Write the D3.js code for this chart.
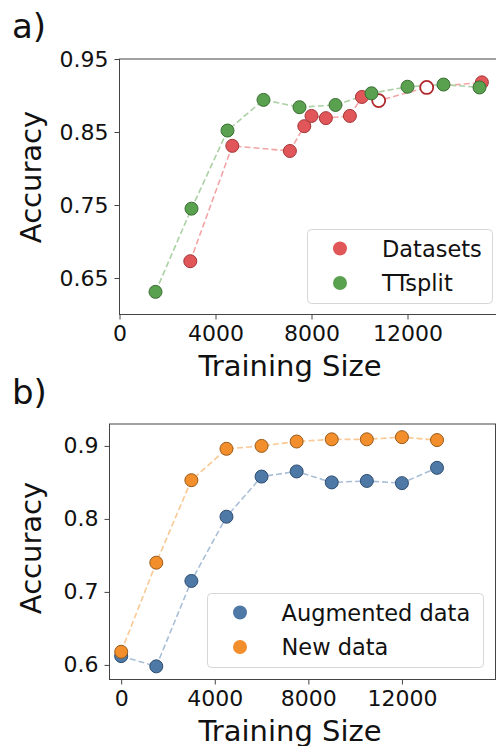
<!DOCTYPE html>
<html><head><meta charset="utf-8">
<script src="https://cdn.jsdelivr.net/npm/d3@7"></script>
<style>body{margin:0;background:#fff}svg{display:block;font-family:"DejaVu Sans",sans-serif}</style>
</head><body>
<svg id="c" width="496" height="746"></svg>
<script>
// Panel a
const ttX = [1500,3000,4500,6000,7500,9000,10500,12000,13500,15000];
const ttY = [0.631,0.745,0.852,0.894,0.884,0.887,0.903,0.912,0.915,0.911];
const dsX = [2950,4700,7100,7700,8000,8600,9600,10100,10800,12800,15100];
const dsY = [0.673,0.831,0.824,0.858,0.872,0.869,0.872,0.898,0.893,0.911,0.918];
const dsHollow = [false,false,false,false,false,false,false,false,true,true,false];
const aXTicks = [0,4000,8000,12000];
const aYTicks = [0.65,0.75,0.85,0.95];
// Panel b
const bX = [0,1500,3000,4500,6000,7500,9000,10500,12000,13500];
const augY = [0.612,0.598,0.715,0.803,0.858,0.865,0.850,0.852,0.849,0.870];
const newY = [0.618,0.740,0.853,0.896,0.900,0.906,0.909,0.909,0.912,0.908];
const bXTicks = [0,4000,8000,12000];
const bYTicks = [0.6,0.7,0.8,0.9];

const svg = d3.select("#c");
const C = {red:"#e15759", redEdge:"#a33538", redLine:"#f3a5a6", hollow:"#b0282c",
  green:"#59a14f", greenEdge:"#3a6e33", greenLine:"#abd1a5",
  blue:"#4e79a7", blueEdge:"#2f4d70", blueLine:"#a9bfd8",
  orange:"#f28e2b", orangeEdge:"#9a5a1a", orangeLine:"#f9c894"};

function panel(o){
  const g = svg.append("g");
  const x = d3.scaleLinear().domain(o.xd).range(o.xr);
  const y = d3.scaleLinear().domain(o.yd).range(o.yr);
  // spines
  const L = o.xr[0], R = o.xr[1], T = o.yr[1], B = o.yr[0];
  g.append("rect").attr("x",L).attr("y",T).attr("width",R-L).attr("height",B-T)
    .attr("fill","none").attr("stroke","#444").attr("stroke-width",1);
  const xa = d3.axisBottom(x).tickValues(o.xt).tickFormat(d3.format("d")).tickSize(5).tickPadding(6);
  const ya = d3.axisLeft(y).tickValues(o.yt).tickFormat(o.yf).tickSize(5).tickPadding(6);
  const gx = g.append("g").attr("transform",`translate(0,${B})`).call(xa);
  const gy = g.append("g").attr("transform",`translate(${L},0)`).call(ya);
  [gx,gy].forEach(a=>{a.select(".domain").remove();
    a.selectAll("line").attr("stroke","#444");
    a.selectAll("text").attr("font-size",22).attr("fill","#111").attr("font-family","DejaVu Sans");});
  // labels
  g.append("text").attr("x",(o.labX)).attr("y",B+61).attr("text-anchor","middle")
    .attr("font-size",29).attr("fill","#111").text("Training Size");
  g.append("text").attr("transform",`translate(41,${o.accY}) rotate(-90)`).attr("text-anchor","middle")
    .attr("font-size",29).attr("fill","#111").text("Accuracy");
  g.append("text").attr("x",12).attr("y",o.tagY).attr("font-size",34).attr("fill","#111").text(o.tag);
  const clip = g.append("g");
  o.series.forEach(s=>{
    const pts = s.x.map((v,i)=>[v,s.y[i]]);
    clip.append("path").attr("d",d3.line().x(d=>x(d[0])).y(d=>y(d[1]))(pts))
      .attr("fill","none").attr("stroke",s.line).attr("stroke-width",1.6).attr("stroke-dasharray","6,3");
  });
  o.series.forEach(s=>{
    clip.selectAll(null).data(s.x.map((v,i)=>({x:v,y:s.y[i],h:s.hollow?s.hollow[i]:false})))
      .join("circle").attr("cx",d=>x(d.x)).attr("cy",d=>y(d.y)).attr("r",6.5)
      .attr("fill",d=>d.h?"#fff":s.fill).attr("stroke",d=>d.h?s.hollowEdge:s.edge)
      .attr("stroke-width",d=>d.h?1.8:1);
  });
  // legend
  const lg = g.append("g");
  lg.append("rect").attr("x",o.leg[0]).attr("y",o.leg[1]).attr("width",o.leg[2]).attr("height",o.leg[3])
    .attr("rx",4).attr("fill","#fff").attr("fill-opacity",0.85).attr("stroke","#d6d6d6");
  o.series.forEach((s,i)=>{
    const cy = o.leg[1]+19+i*34.5;
    lg.append("circle").attr("cx",o.legMX).attr("cy",cy).attr("r",7).attr("fill",s.fill);
    lg.append("text").attr("x",o.legTX).attr("y",cy+8).attr("font-size",22.5).attr("fill","#111").text(s.name);
  });
}

panel({xd:[0,16000], xr:[119.5,503.5], yd:[0.6,0.95], yr:[314.5,59],
  xt:aXTicks, yt:aYTicks, yf:d3.format(".2f"), labX:290, accY:177, tag:"a)", tagY:38,
  leg:[307.5,229.5,185,74], legMX:340, legTX:382,
  series:[
    {name:"Datasets", x:dsX, y:dsY, hollow:dsHollow, fill:C.red, edge:C.redEdge, hollowEdge:C.hollow, line:C.redLine},
    {name:"TTsplit", x:ttX, y:ttY, fill:C.green, edge:C.greenEdge, line:C.greenLine}
  ]});

panel({xd:[-500,16000], xr:[109.5,495.5], yd:[0.58,0.93], yr:[679.5,424],
  xt:bXTicks, yt:bYTicks, yf:d3.format(".1f"), labX:290, accY:548, tag:"b)", tagY:404,
  leg:[207.5,593.5,276,74], legMX:240, legTX:281.5,
  series:[
    {name:"Augmented data", x:bX, y:augY, fill:C.blue, edge:C.blueEdge, line:C.blueLine},
    {name:"New data", x:bX, y:newY, fill:C.orange, edge:C.orangeEdge, line:C.orangeLine}
  ]});
</script>
</body></html>
